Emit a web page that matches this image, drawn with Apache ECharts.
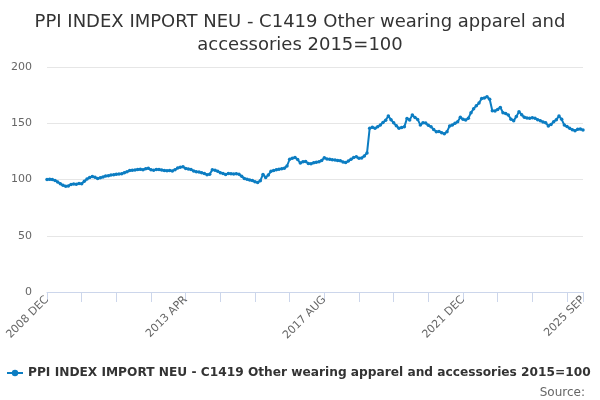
<!DOCTYPE html>
<html>
<head>
<meta charset="utf-8">
<script src="https://cdn.jsdelivr.net/npm/echarts@6/dist/echarts.min.js"></script>
<style>html,body{margin:0;padding:0;background:#fff;}#c{width:600px;height:400px;}</style>
</head>
<body>
<div id="c"></div>
<script>
var seriesName = 'PPI INDEX IMPORT NEU - C1419 Other wearing apparel and accessories 2015=100';
var titleText = 'PPI INDEX IMPORT NEU - C1419 Other wearing apparel and\naccessories 2015=100';
var monthNames = ['JAN','FEB','MAR','APR','MAY','JUN','JUL','AUG','SEP','OCT','NOV','DEC'];
var yTicks = [0, 50, 100, 150, 200];
var values = [
100.0,100.2,99.9,99.2,97.8,96.3,94.8,94.1,94.3,95.6,
96.1,95.8,96.5,96.2,98.5,100.4,101.8,102.7,101.9,100.8,
101.6,102.3,103.1,103.4,103.9,104.2,104.6,104.8,105.1,106.0,
106.8,107.9,108.2,108.4,108.9,109.1,108.7,109.6,109.9,108.6,
108.3,109.0,108.8,108.4,108.1,107.8,107.9,107.6,108.7,110.2,
111.0,111.3,109.8,109.4,108.9,107.5,106.9,106.6,106.0,105.4,
104.3,104.6,108.6,108.3,107.4,106.1,105.3,104.4,105.4,105.2,
104.9,105.1,104.6,102.8,101.0,100.2,99.6,99.1,97.9,97.4,
99.0,104.5,101.8,104.1,107.3,108.0,108.6,109.2,109.5,110.1,
112.0,118.0,119.0,119.6,117.8,114.6,115.8,116.0,114.2,114.0,
114.9,115.3,115.8,116.9,119.3,118.2,117.9,117.5,117.3,116.9,
116.7,115.6,115.1,116.4,117.9,119.6,120.3,118.8,119.1,121.0,
123.5,145.5,146.4,145.5,146.9,148.4,150.6,152.7,156.4,153.2,
150.4,147.8,145.6,146.3,146.8,154.3,153.0,157.3,155.2,153.4,
148.5,150.5,150.2,148.2,147.0,144.4,142.5,142.7,141.6,140.6,
142.5,147.6,148.4,149.9,151.4,155.3,153.5,152.9,154.4,159.4,
163.0,165.6,167.9,172.1,172.4,173.6,171.3,161.2,161.0,162.3,
164.1,159.4,158.6,157.3,153.6,152.3,155.9,160.3,157.6,155.3,
154.6,154.4,154.8,154.4,153.2,152.3,151.2,150.5,147.6,149.0,
151.4,153.2,156.4,153.5,148.4,147.1,145.5,144.3,143.4,144.6,
144.8,144.0
];
var categories = [];
var y = 2008, m = 11;
for (var k = 0; k < values.length; k++) {
  categories.push(y + ' ' + monthNames[m]);
  m++; if (m > 11) { m = 0; y++; }
}
var last = categories.length - 1;

var chart = echarts.init(document.getElementById('c'));
chart.setOption({
  animation: false,
  textStyle: { fontFamily: 'DejaVu Sans' },
  title: [{
    text: titleText,
    left: 'center',
    top: 6,
    textStyle: { fontSize: 18, fontWeight: 'normal', color: '#333333', lineHeight: 23, fontFamily: 'DejaVu Sans' }
  }, {
    text: 'Source:',
    right: 10,
    top: 382,
    textStyle: { fontSize: 12, fontWeight: 'normal', color: '#666666', fontFamily: 'DejaVu Sans' }
  }],
  legend: {
    data: [seriesName],
    left: 6,
    top: 367,
    padding: 0,
    itemWidth: 16,
    itemHeight: 8,
    itemGap: 5,
    textStyle: { fontSize: 12.2, fontWeight: 'bold', color: '#333333', fontFamily: 'DejaVu Sans' }
  },
  grid: { left: 47, right: 17, top: 67, bottom: 108, containLabel: false },
  xAxis: {
    type: 'category',
    data: categories,
    boundaryGap: false,
    axisLine: { lineStyle: { color: '#ccd6eb', width: 1 } },
    axisTick: {
      show: true,
      length: 10,
      lineStyle: { color: '#ccd6eb' },
      interval: function (i) { return i % 13 === 0 || i === last; }
    },
    axisLabel: {
      rotate: 45,
      fontSize: 11,
      color: '#666666',
      margin: 6,
      interval: function (i) { return i % 52 === 0 || i === last; }
    },
    splitLine: { show: false }
  },
  yAxis: {
    type: 'value',
    min: yTicks[0],
    max: yTicks[yTicks.length - 1],
    interval: 50,
    axisLine: { show: false },
    axisTick: { show: false },
    axisLabel: { fontSize: 11, color: '#666666', margin: 15 },
    splitLine: { lineStyle: { color: '#e6e6e6' } }
  },
  series: [{
    name: seriesName,
    type: 'line',
    data: values,
    showSymbol: true,
    showAllSymbol: true,
    symbol: 'circle',
    symbolSize: 3.5,
    itemStyle: { color: '#0c7dc2' },
    lineStyle: { color: '#0c7dc2', width: 2 }
  }]
});
</script>
</body>
</html>
